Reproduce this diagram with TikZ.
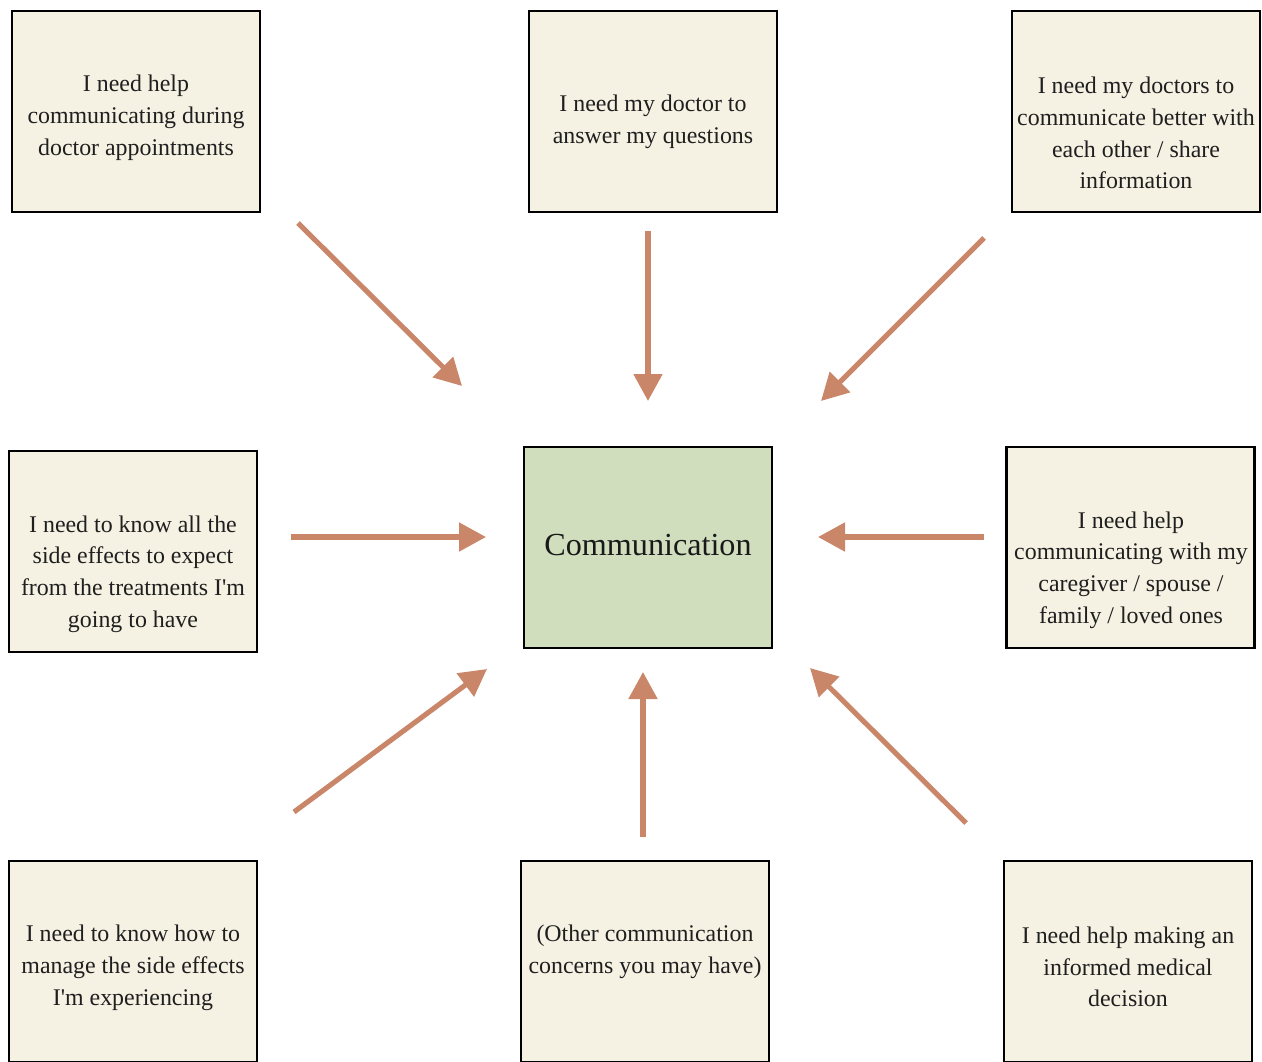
\documentclass[tikz,border=0pt]{standalone}
\usepackage{fontspec}
% keep plain typewriter apostrophes
\setmainfont{Liberation Serif}[Ligatures=TeXOff]
\usetikzlibrary{arrows.meta}

\definecolor{cream}{RGB}{245,241,227}
\definecolor{sage}{RGB}{208,222,190}
\definecolor{clay}{RGB}{201,134,105}

\tikzset{
  box/.style={draw=black, line width=1.2pt, fill=cream, minimum width=4.96cm,
              minimum height=4.02cm, inner sep=0pt, outer sep=0pt},
  hub/.style={box, fill=sage},
  label/.style={align=center, inner sep=0pt, text=black!88,
                font=\fontsize{13.6}{18.1}\selectfont},
  hublabel/.style={inner sep=0pt, text=black!90,
                font=\fontsize{18.3}{22}\selectfont},
  link/.style={draw=clay, line width=2.9pt,
               -{Triangle[length=0.54cm, width=0.56cm]}}
}

\begin{document}
\begin{tikzpicture}[x=0.02cm, y=-0.02cm]
  \clip (0,0) rectangle (1262,1062);

  % outer ring of concern boxes
  \node[box] (b1) at (136,111.5) {};
  \node[box] (b2) at (653,111.5) {};
  \node[box] (b3) at (1136,111.5) {};
  \node[box] (b4) at (133,551.5) {};
  \node[box] (b5) at (1130.5,547.5) {};
  \node[box] (b6) at (133,961.5) {};
  \node[box] (b7) at (645,961.5) {};
  \node[box] (b8) at (1128,961.5) {};

  % central topic
  \node[hub] (hub) at (648,547.5) {};
  \node[hublabel] (hubtext) at (648,545) {Communication};

  % box texts
  \node[label] (t1) at (136,118) {I need help\\communicating during\\doctor appointments};
  \node[label] (t2) at (653,122) {I need my doctor to\\answer my questions};
  \node[label] (t3) at (1136,133) {I need my doctors to\\communicate better with\\each other / share\\information};
  \node[label] (t4) at (133,574) {I need to know all the\\side effects to expect\\from the treatments I'm\\going to have};
  \node[label] (t5) at (1131,570) {I need help\\communicating with my\\caregiver / spouse /\\family / loved ones};
  \node[label] (t6) at (133,968) {I need to know how to\\manage the side effects\\I'm experiencing};
  \node[label] (t7) at (645,952) {(Other communication\\concerns you may have)};
  \node[label] (t8) at (1128,967) {I need help making an\\informed medical\\decision};

  % arrow end points
  \coordinate (s1) at (298,223);  \coordinate (e1) at (462,386);
  \coordinate (s2) at (648,231);  \coordinate (e2) at (648,401);
  \coordinate (s3) at (984,238);  \coordinate (e3) at (821,401);
  \coordinate (s4) at (291,537);  \coordinate (e4) at (486,537);
  \coordinate (s5) at (984,537);  \coordinate (e5) at (818,537);
  \coordinate (s6) at (294,812);  \coordinate (e6) at (487,669);
  \coordinate (s7) at (643,837);  \coordinate (e7) at (643,672);
  \coordinate (s8) at (966,823);  \coordinate (e8) at (810,668);

  % arrows pointing at the central topic
  \foreach \i in {1,...,8}{
    \draw[link] (s\i) -- (e\i);
  }
\end{tikzpicture}
\end{document}
